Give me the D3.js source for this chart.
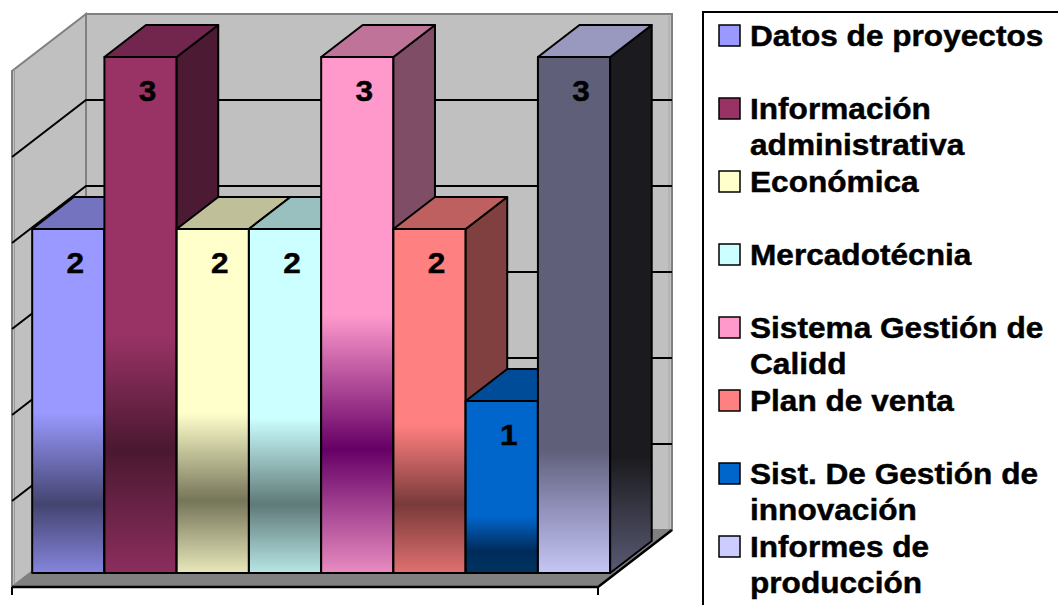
<!DOCTYPE html>
<html>
<head>
<meta charset="utf-8">
<script src="https://cdn.jsdelivr.net/npm/d3@7"></script>
<style>
  html, body { margin: 0; padding: 0; background: #ffffff; }
  svg { display: block; }
  text { font-family: "Liberation Sans", Arial, sans-serif; font-weight: bold; fill: #000; stroke: #000; stroke-width: 0.45px; }
</style>
</head>
<body>
<svg id="chart" width="1058" height="605"></svg>
<script>
// ---- data ----
const categories = [
  "Datos de proyectos",
  "Información administrativa",
  "Económica",
  "Mercadotécnia",
  "Sistema Gestión de Calidd",
  "Plan de venta",
  "Sist. De Gestión de innovación",
  "Informes de producción"
];
const values = [2, 3, 2, 2, 3, 2, 1, 3];
const valueTicks = [0, 0.5, 1, 1.5, 2, 2.5, 3];

// ---- per-series fill styles ----
const frontColors  = ["#9999ff", "#993366", "#ffffcc", "#ccffff", "#ff99cc", "#ff8080", "#0066cc", "#5f5f7a"];
const bandColors   = ["#444470", "#4a1830", "#757559", "#5f7a78", "#660066", "#7a3a3a", "#002c5c", "#8e8eb8"];
const bottomColors = ["#8585dd", "#8c2e5e", "#e8e8bb", "#b8e6e6", "#e88cc0", "#e07070", "#00325f", "#c6c6f4"];
const flatUntil    = [0.535, 0.54, 0.535, 0.55, 0.50, 0.57, 0.67, 0.76];
const bandAt       = [0.80, 0.76, 0.79, 0.80, 0.76, 0.80, 0.87, 0.87];
const sideColors   = ["#4d4d80", "#4d1a33", "#80806a", "#6a8080", "#7f4d66", "#804040", "#003366", "#1b1b1f"];
const sideBottom   = ["#4d4d80", "#4d1a33", "#80806a", "#6a8080", "#7f4d66", "#804040", "#003366", "#5a5a74"];
const topColors    = ["#7373bf", "#73264d", "#bfbf99", "#99bfbf", "#bf7399", "#bf6060", "#004c99", "#9999bf"];
const legendColors = ["#9999ff", "#993366", "#ffffcc", "#ccffff", "#ff99cc", "#ff8080", "#0066cc", "#ccccff"];

const svg = d3.select("#chart");
const defs = svg.append("defs");

// ---- oblique 3D projection ----
const DX = 74, DY = 57;                 // screen offset of full floor depth
const floorLeft = 12, floorRight = 598;
const x = d3.scaleBand().domain(categories).range([14, 592]).padding(0);
const y = d3.scaleLinear().domain([0, 3]).range([587, 71]);   // front plane
const zFront = 14 / 57, zBack = zFront + 32 / 57;             // bar depth span
const P = (px, v, z) => [px + z * DX, y(v) - z * DY];
const poly = pts => pts.map(p => p.join(",")).join(" ");

// ---- walls ----
svg.append("polygon")
  .attr("points", poly([P(floorLeft, 0, 1), P(floorRight, 0, 1), P(floorRight, 3, 1), P(floorLeft, 3, 1)]))
  .attr("fill", "#c0c0c0").attr("stroke", "#808080").attr("stroke-width", 2);
svg.append("line")
  .attr("x1", P(floorRight, 3, 1)[0] - 3).attr("y1", P(floorRight, 3, 1)[1] + 2)
  .attr("x2", P(floorRight, 0, 1)[0] - 3).attr("y2", P(floorRight, 0, 1)[1] - 1)
  .attr("stroke", "#a8a8a8").attr("stroke-width", 1);

svg.append("polygon")
  .attr("points", poly([P(floorLeft, 0, 0), P(floorLeft, 3, 0), P(floorLeft, 3, 1), P(floorLeft, 0, 1)]))
  .attr("fill", "#c0c0c0").attr("stroke", "#808080").attr("stroke-width", 2);
svg.append("line")
  .attr("x1", floorLeft + 2.5).attr("y1", y(3) - 2).attr("x2", floorLeft + 2.5).attr("y2", y(0) - 3)
  .attr("stroke", "#9a9a9a").attr("stroke-width", 1);

// gridlines on left and back walls
const grid = valueTicks.filter(t => t > 0 && t < 3);
svg.append("g").selectAll("path").data(grid).join("path")
  .attr("d", v => {
    const a = P(floorLeft, v, 0), b = P(floorLeft, v, 1), c = P(floorRight, v, 1);
    return `M${a}L${b}L${c}`;
  })
  .attr("fill", "none").attr("stroke", "#000").attr("stroke-width", 2);

// ---- floor ----
svg.append("polygon")
  .attr("points", poly([P(floorLeft, 0, 0), P(floorRight, 0, 0), P(floorRight, 0, 1), P(floorLeft, 0, 1)]))
  .attr("fill", "#808080").attr("stroke", "#808080").attr("stroke-width", 1);
svg.append("path")
  .attr("d", `M${P(floorLeft, 0, 0)}L${P(floorRight, 0, 0)}L${P(floorRight, 0, 1)}`)
  .attr("fill", "none").attr("stroke", "#000").attr("stroke-width", 2.5).attr("stroke-linejoin", "round");
// category axis end ticks
svg.append("g").selectAll("line").data([floorLeft, floorRight]).join("line")
  .attr("x1", d => d).attr("x2", d => d)
  .attr("y1", y(0)).attr("y2", y(0) + 8)
  .attr("stroke", "#000").attr("stroke-width", 2);

// ---- gradients ----
categories.forEach((c, i) => {
  const g = defs.append("linearGradient").attr("id", "front" + i)
    .attr("x1", 0).attr("y1", 0).attr("x2", 0).attr("y2", 1);
  [[0, frontColors[i]], [flatUntil[i], frontColors[i]], [bandAt[i], bandColors[i]], [1, bottomColors[i]]]
    .forEach(s => g.append("stop").attr("offset", s[0]).attr("stop-color", s[1]));

  const sg = defs.append("linearGradient").attr("id", "side" + i)
    .attr("x1", 0).attr("y1", 0).attr("x2", 0).attr("y2", 1);
  [[0, sideColors[i]], [0.79, sideColors[i]], [1, sideBottom[i]]]
    .forEach(s => sg.append("stop").attr("offset", s[0]).attr("stop-color", s[1]));
});

// ---- bars (drawn left to right so each front hides the previous side) ----
const bars = svg.append("g").selectAll("g").data(values).join("g");
bars.each(function (v, i) {
  const g = d3.select(this);
  const x0 = x(categories[i]), x1 = x0 + x.bandwidth();
  const common = s => s.attr("stroke", "#000").attr("stroke-width", 2).attr("stroke-linejoin", "round");
  g.append("polygon")
    .attr("points", poly([P(x0, 0, zFront), P(x1, 0, zFront), P(x1, v, zFront), P(x0, v, zFront)]))
    .attr("fill", `url(#front${i})`).call(common);
  g.append("polygon")
    .attr("points", poly([P(x1, 0, zFront), P(x1, 0, zBack), P(x1, v, zBack), P(x1, v, zFront)]))
    .attr("fill", `url(#side${i})`).call(common);
  g.append("polygon")
    .attr("points", poly([P(x0, v, zFront), P(x1, v, zFront), P(x1, v, zBack), P(x0, v, zBack)]))
    .attr("fill", topColors[i]).call(common);
});

// ---- value labels ----
const sx = 1.09;   // horizontal stretch of the lettering
svg.append("g").selectAll("text").data(values).join("text")
  .attr("text-anchor", "middle")
  .attr("font-size", 29)
  .attr("transform", (v, i) => {
    const [cx, ty] = P(x(categories[i]) + x.bandwidth() / 2, v, zFront);
    return `translate(${cx + 7},${ty + 44}) scale(${sx},1)`;
  })
  .text(v => v);

// ---- legend ----
const legend = svg.append("g");
legend.append("rect")
  .attr("x", 703).attr("y", 12).attr("width", 420).attr("height", 640)
  .attr("fill", "#fff").attr("stroke", "#000").attr("stroke-width", 2);

const maxWidth = 302, rowStep = 73, lineStep = 36, firstBaseline = 46;
categories.forEach((name, i) => {
  const base = firstBaseline + i * rowStep;
  legend.append("rect")
    .attr("x", 719).attr("y", base - 21).attr("width", 21).attr("height", 21)
    .attr("fill", legendColors[i]).attr("stroke", "#000").attr("stroke-width", 1.5);

  // wrap the name into lines that fit the legend width
  const words = name.split(" ");
  const lines = [];
  let cur = "";
  const probe = legend.append("text").attr("font-size", 29);
  words.forEach(w => {
    const test = cur ? cur + " " + w : w;
    probe.text(test);
    if (cur && probe.node().getComputedTextLength() * sx > maxWidth) {
      lines.push(cur); cur = w;
    } else cur = test;
  });
  lines.push(cur);
  probe.remove();

  lines.forEach((ln, k) => {
    legend.append("text")
      .attr("font-size", 29)
      .attr("transform", `translate(750,${base + k * lineStep}) scale(${sx},1)`)
      .text(ln);
  });
});
</script>
</body>
</html>
